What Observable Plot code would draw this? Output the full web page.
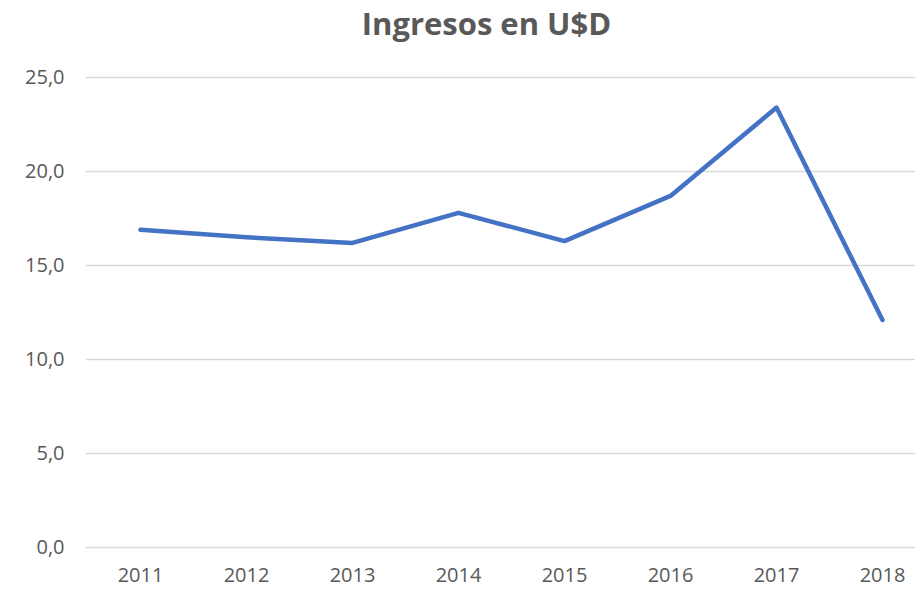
<!DOCTYPE html>
<html>
<head>
<meta charset="utf-8">
<script src="https://cdn.jsdelivr.net/npm/d3@7"></script>
<script src="https://cdn.jsdelivr.net/npm/@observablehq/plot@0.6"></script>
<style>
  html, body { margin: 0; padding: 0; background: #fff; }
  #title { height: 50px; line-height: 46px; text-align: center; padding-left: 58px; font-family: "Open Sans", Lato, sans-serif; font-weight: bold; font-size: 31px; color: #595959; }
  svg { display: block; }
</style>
</head>
<body>
<div id="title">Ingresos en U$D</div>
<div id="chart"></div>
<script>
const years = ["2011", "2012", "2013", "2014", "2015", "2016", "2017", "2018"];
const ingresos = [16.9, 16.5, 16.2, 17.8, 16.3, 18.7, 23.4, 12.1];
const yTicks = [0, 5, 10, 15, 20, 25];

const data = years.map((y, i) => ({year: y, value: ingresos[i]}));

const chart = Plot.plot({
  width: 915,
  height: 539,
  marginLeft: 86,
  marginRight: 0,
  marginTop: 27,
  marginBottom: 42,
  style: {fontFamily: "'Open Sans', Lato, sans-serif", fontSize: "20px", color: "#595959", overflow: "visible"},
  x: {type: "point", domain: years, range: [86, 936], padding: 0.5},
  y: {domain: [0, 25]},
  marks: [
    Plot.ruleY(yTicks, {stroke: "#d9d9d9", strokeWidth: 1.5}),
    Plot.axisY(yTicks, {tickSize: 0, tickPadding: 22, tickFormat: d => d.toFixed(1).replace(".", ","), label: null, fill: "#595959"}),
    Plot.axisX(years, {tickSize: 0, tickPadding: 20, label: null, fill: "#595959"}),
    Plot.line(data, {x: "year", y: "value", stroke: "#4472C4", strokeWidth: 4.5, strokeLinecap: "round", strokeLinejoin: "round"})
  ]
});
document.getElementById("chart").appendChild(chart);
</script>
</body>
</html>
